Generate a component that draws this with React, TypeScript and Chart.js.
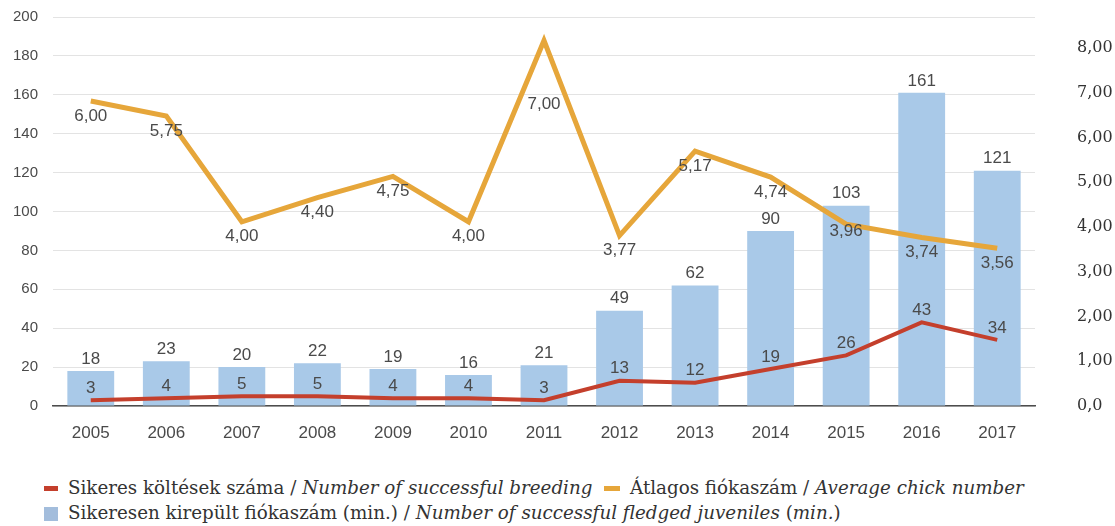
import React, { useEffect, useRef } from "react";
import { Chart, registerables } from "chart.js";

Chart.register(...registerables);

const years = ["2005", "2006", "2007", "2008", "2009", "2010", "2011", "2012", "2013", "2014", "2015", "2016", "2017"];
const fledged = [18, 23, 20, 22, 19, 16, 21, 49, 62, 90, 103, 161, 121];
const breeding = [3, 4, 5, 5, 4, 4, 3, 13, 12, 19, 26, 43, 34];
const avgChicks = [6.0, 5.75, 4.0, 4.4, 4.75, 4.0, 7.0, 3.77, 5.17, 4.74, 3.96, 3.74, 3.56];
const leftTicks = [0, 20, 40, 60, 80, 100, 120, 140, 160, 180, 200];
const rightTicks = [0, 1, 2, 3, 4, 5, 6, 7, 8];
const rightTickLabels = ["0,0", "1,00", "2,00", "3,00", "4,00", "5,00", "6,00", "7,00", "8,00"];

const legendItems = {
  breeding: ["Sikeres költések száma", "Number of successful breeding"],
  avg: ["Átlagos fiókaszám", "Average chick number"],
  fledged: ["Sikeresen kirepült fiókaszám", "(min.)", "Number of successful fledged juveniles", "min."],
};

const BLUE = "#a9c9e8";
const RED = "#c43f2c";
const ORANGE = "#e6a63a";
const TEXT = "#4a4a4a";
const SANS = "'Liberation Sans', Arial, sans-serif";
const SERIF = "'DejaVu Serif', serif";

const fmt = (v: number) => v.toFixed(2).replace(".", ",");

const labelPlugin = {
  id: "valueLabels",
  afterDatasetsDraw(chart: any, _args: any, opts: any) {
    const ctx = chart.ctx;
    ctx.save();
    ctx.font = `17px ${SANS}`;
    ctx.fillStyle = TEXT;
    ctx.textAlign = "center";
    ctx.textBaseline = "middle";
    chart.data.datasets.forEach((ds: any, di: number) => {
      const meta = chart.getDatasetMeta(di);
      meta.data.forEach((el: any, i: number) => {
        const v = ds.data[i];
        let text = String(v);
        let y = el.y - 12;
        if (ds.labelKind === "avg") {
          text = fmt(v);
          const off = opts.avgOffsets && opts.avgOffsets[i] !== undefined ? opts.avgOffsets[i] : 15;
          y = el.y + off;
        }
        ctx.fillText(text, el.x, y);
      });
    });
    ctx.restore();
  },
};

function App() {
  const ref = useRef<HTMLCanvasElement | null>(null);

  useEffect(() => {
    if (!ref.current) return;
    const chart = new Chart(ref.current, {
      type: "bar",
      data: {
        labels: years,
        datasets: [
          {
            type: "line",
            label: legendItems.avg[0],
            data: avgChicks,
            yAxisID: "y3",
            borderColor: ORANGE,
            backgroundColor: ORANGE,
            borderWidth: 5,
            pointRadius: 0,
            tension: 0,
            borderJoinStyle: "miter",
            order: 1,
            labelKind: "avg",
          } as any,
          {
            type: "line",
            label: legendItems.breeding[0],
            data: breeding,
            yAxisID: "y",
            borderColor: RED,
            backgroundColor: RED,
            borderWidth: 4,
            pointRadius: 0,
            tension: 0,
            order: 2,
            labelKind: "breeding",
          } as any,
          {
            type: "bar",
            label: legendItems.fledged[0],
            data: fledged,
            yAxisID: "y",
            backgroundColor: BLUE,
            borderWidth: 0,
            barPercentage: 0.62,
            categoryPercentage: 1,
            order: 3,
            labelKind: "fledged",
          } as any,
        ],
      },
      options: {
        responsive: false,
        animation: false,
        devicePixelRatio: 1,
        layout: { padding: { top: 17, left: 0, right: 0, bottom: 0 } },
        plugins: {
          legend: { display: false },
          tooltip: { enabled: false },
          valueLabels: { avgOffsets: { 6: 64, 10: 7 } },
        } as any,
        scales: {
          x: {
            type: "category",
            offset: true,
            grid: { display: false },
            border: { display: true, color: "#4d4d4d", width: 1.5 },
            ticks: { color: TEXT, font: { family: SANS, size: 17 }, padding: 9 },
            afterFit: (s: any) => {
              s.height = 40;
            },
          },
          y: {
            position: "left",
            min: 0,
            max: 200,
            grid: { color: "#e3e3e3", lineWidth: 1, drawTicks: true, tickLength: 13, tickColor: "rgba(0,0,0,0)" },
            border: { display: false },
            ticks: { color: TEXT, font: { family: SANS, size: 15 }, padding: 2 },
            afterBuildTicks: (s: any) => {
              s.ticks = leftTicks.map((v) => ({ value: v }));
            },
            afterFit: (s: any) => {
              s.width = 53;
            },
          },
          y2: {
            position: "right",
            min: 0,
            max: 8.69,
            grid: {
              display: true,
              drawOnChartArea: false,
              drawTicks: true,
              tickLength: 40,
              color: "rgba(0,0,0,0)",
              tickColor: "rgba(0,0,0,0)",
            },
            border: { display: false },
            ticks: {
              color: "#333",
              font: { family: SERIF, size: 16 },
              padding: 2,
              callback: (v: any) => {
                const i = rightTicks.indexOf(Number(v));
                return i >= 0 ? rightTickLabels[i] : "";
              },
            },
            afterBuildTicks: (s: any) => {
              s.ticks = rightTicks.map((v) => ({ value: v }));
            },
            afterFit: (s: any) => {
              s.width = 80;
            },
          },
          y3: {
            display: false,
            min: 0.95,
            max: 7.39,
          },
        },
      } as any,
      plugins: [labelPlugin],
    });
    return () => chart.destroy();
  }, []);

  const legendText: React.CSSProperties = {
    position: "absolute",
    fontFamily: SERIF,
    fontSize: 18.3,
    lineHeight: "24px",
    color: "#333",
    whiteSpace: "nowrap",
  };

  return (
    <div style={{ position: "absolute", left: 0, top: 0, width: 1115, height: 526, background: "#fff" }}>
      <canvas ref={ref} width={1115} height={446} style={{ position: "absolute", left: 0, top: 0 }} />
      <div style={{ position: "absolute", left: 44, top: 486, width: 14, height: 5, background: RED }} />
      <div style={{ ...legendText, left: 68, top: 476 }}>
        {legendItems.breeding[0]} / <i>{legendItems.breeding[1]}</i>
      </div>
      <div style={{ position: "absolute", left: 604, top: 486, width: 16, height: 5, background: ORANGE }} />
      <div style={{ ...legendText, left: 630, top: 476 }}>
        {legendItems.avg[0]} / <i>{legendItems.avg[1]}</i>
      </div>
      <div style={{ position: "absolute", left: 44, top: 507, width: 14, height: 14, background: "#a3bddc" }} />
      <div style={{ ...legendText, left: 68, top: 501 }}>
        {legendItems.fledged[0]} {legendItems.fledged[1]} / <i>{legendItems.fledged[2]}</i> (<i>{legendItems.fledged[3]}</i>)
      </div>
    </div>
  );
}

export default App;
